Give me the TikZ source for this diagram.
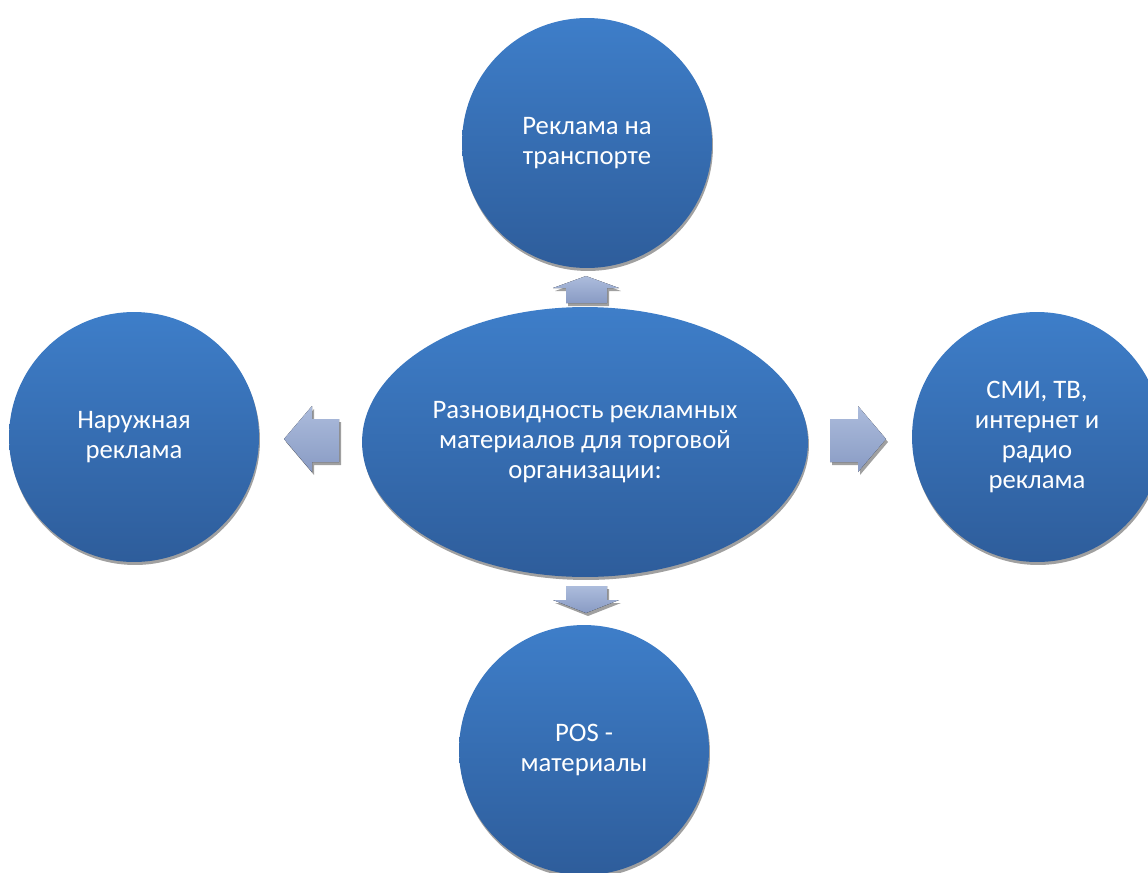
\documentclass[tikz,border=0pt]{standalone}
\usepackage{fontspec}
\setmainfont{Carlito}
\usetikzlibrary{shapes.geometric, shadows, positioning}

\definecolor{circtop}{RGB}{62,126,201}
\definecolor{circbot}{RGB}{46,93,155}
\definecolor{arrtop}{RGB}{172,188,220}
\definecolor{arrbot}{RGB}{137,155,196}
\definecolor{shadegray}{RGB}{160,160,160}

\begin{document}
\begin{tikzpicture}[
        x=0.02cm, y=-0.02cm,
        bubble/.style={circle, minimum size=5cm, inner sep=0pt, top color=circtop, bottom color=circbot,
            text=white, align=center, font=\fontsize{15.2}{16.9}\selectfont,
            drop shadow={shadow xshift=0.02cm, shadow yshift=-0.06cm, fill=shadegray, opacity=1}},
        hub/.style={bubble, ellipse, minimum width=8.92cm, minimum height=5.4cm},
        blockarr/.style={top color=arrtop, bottom color=arrbot,
            drop shadow={shadow xshift=0.04cm, shadow yshift=-0.06cm, fill=shadegray, opacity=1}}
    ]
        \useasboundingbox (0,0) rectangle (1148,872);
        \clip (0,0) rectangle (1148,872);

        % Centre and satellites
        \node[hub] (hub) at (585,442) {Разновидность рекламных\\материалов для торговой\\организации:};
        \node[bubble] (transport) at (587,143) {Реклама на\\транспорте};
        \node[bubble] (outdoor) at (134,437) {Наружная\\реклама};
        \node[bubble] (media) at (1037,437) {СМИ, ТВ,\\интернет и\\радио\\реклама};
        \node[bubble] (pos) at (584,750) {POS -\\материалы};

        % Block arrows
        \fill[blockarr] (586,276) -- (619,288) -- (607,288) -- (607,303) -- (566,303) -- (566,288) -- (553,288) -- cycle;
        \fill[blockarr] (586,613) -- (619,600) -- (607,600) -- (607,586) -- (566,586) -- (566,600) -- (553,600) -- cycle;
        \fill[blockarr] (284,439) -- (312,406) -- (312,419) -- (339,419) -- (339,462) -- (312,462) -- (312,472) -- cycle;
        \fill[blockarr] (886,439) -- (858,406) -- (858,419) -- (830,419) -- (830,462) -- (858,462) -- (858,472) -- cycle;
    \end{tikzpicture}
\end{document}
